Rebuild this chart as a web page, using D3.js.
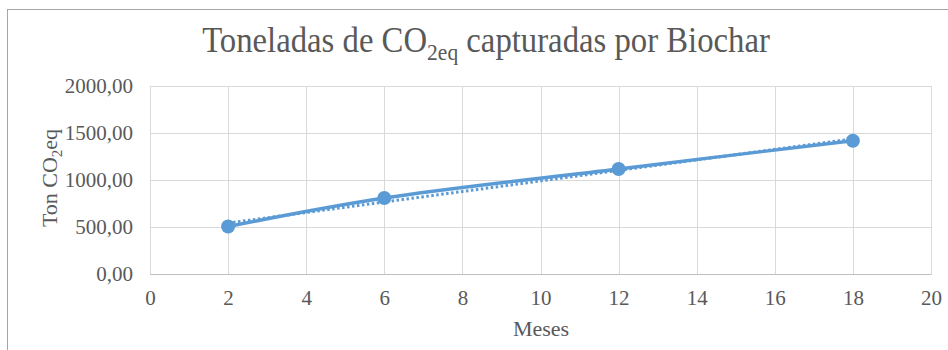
<!DOCTYPE html>
<html>
  <head>
    <meta charset="UTF-8" />
    <script src="https://cdnjs.cloudflare.com/ajax/libs/d3/7.8.5/d3.min.js"></script>
    <style>
      body { margin: 0; background: #fff; }
      text { font-family: "Liberation Serif", "Times New Roman", serif; }
      .grid line { stroke: #d9d9d9; stroke-width: 1; }
      .tick text { fill: #595959; font-size: 21px; font-family: "Liberation Serif", serif; }
      .title { fill: #595959; font-size: 35px; font-family: "Liberation Serif", serif; }
      .axis-title { fill: #595959; font-size: 22px; font-family: "Liberation Serif", serif; }
    </style>
  </head>
  <body>
    <svg id="chart" width="948" height="350"></svg>
    <script>
      // data
      var months = [2, 6, 12, 18];
      var tonCO2 = [505, 808, 1117, 1418];
      var xTicks = [0, 2, 4, 6, 8, 10, 12, 14, 16, 18, 20];
      var yTicks = [0, 500, 1000, 1500, 2000];

      var svg = d3.select("#chart");
      var blue = "#5b9bd5";

      // outer chart border
      svg.append("rect")
        .attr("x", 7.5).attr("y", 9.5)
        .attr("width", 960).attr("height", 360)
        .attr("fill", "none")
        .attr("stroke", "#a6a6a6");

      var x = d3.scaleLinear().domain([0, 20]).range([150, 931]);
      var y = d3.scaleLinear().domain([0, 2000]).range([274, 86]);

      var fmt = d => d3.format(".2f")(d).replace(".", ",");

      // horizontal grid
      svg.append("g").attr("class", "grid")
        .selectAll("line").data(yTicks).enter().append("line")
        .attr("x1", x(0)).attr("x2", x(20))
        .attr("y1", d => Math.round(y(d)) + 0.5)
        .attr("y2", d => Math.round(y(d)) + 0.5);

      // vertical grid
      svg.append("g").attr("class", "grid")
        .selectAll("line").data(xTicks).enter().append("line")
        .attr("y1", y(0)).attr("y2", y(2000))
        .attr("x1", d => Math.round(x(d)) + 0.5)
        .attr("x2", d => Math.round(x(d)) + 0.5);

      var xAxis = svg.append("g")
        .attr("transform", "translate(0," + y(0) + ")")
        .call(d3.axisBottom(x).tickValues(xTicks).tickSize(0).tickPadding(16));
      xAxis.select(".domain").attr("stroke", "#bfbfbf");

      var yAxis = svg.append("g")
        .attr("transform", "translate(" + x(0) + ",0)")
        .call(d3.axisLeft(y).tickValues(yTicks).tickFormat(fmt).tickSize(0).tickPadding(17));
      yAxis.select(".domain").remove();

      // linear trendline (least squares over the data)
      var mx = d3.mean(months), my = d3.mean(tonCO2);
      var sxy = d3.sum(months, (m, i) => (m - mx) * (tonCO2[i] - my));
      var sxx = d3.sum(months, m => (m - mx) * (m - mx));
      var slope = sxy / sxx, icpt = my - slope * mx;
      var trendX = [months[0], months[months.length - 1]];

      svg.append("path")
        .datum(trendX)
        .attr("fill", "none")
        .attr("stroke", blue)
        .attr("stroke-width", 3)
        .attr("stroke-dasharray", "2.5 2.5")
        .attr("d", d3.line().x(d => x(d)).y(d => y(slope * d + icpt)));

      var pts = months.map((m, i) => [m, tonCO2[i]]);

      svg.append("path")
        .datum(pts)
        .attr("fill", "none")
        .attr("stroke", blue)
        .attr("stroke-width", 3.4)
        .attr("stroke-linecap", "round")
        .attr("d", d3.line().x(d => x(d[0])).y(d => y(d[1])).curve(d3.curveCatmullRom.alpha(0.5)));

      svg.append("g").selectAll("circle").data(pts).enter().append("circle")
        .attr("cx", d => x(d[0]))
        .attr("cy", d => y(d[1]))
        .attr("r", 7)
        .attr("fill", blue);

      // title with subscript, squeezed to the reference width
      var titleG = svg.append("g");
      var title = titleG.append("text").attr("class", "title")
        .attr("x", 0).attr("y", 0).attr("text-anchor", "middle");
      title.append("tspan").text("Toneladas de CO");
      title.append("tspan").attr("font-size", "23px").attr("dy", 8).text("2eq");
      title.append("tspan").attr("dy", -8).text(" capturadas por Biochar");
      var tw = title.node().getComputedTextLength();
      titleG.attr("transform", "translate(486,52) scale(" + (568 / tw) + ",1)");

      svg.append("text").attr("class", "axis-title")
        .attr("x", 541).attr("y", 336).attr("text-anchor", "middle")
        .text("Meses");

      var yt = svg.append("text").attr("class", "axis-title")
        .attr("text-anchor", "middle")
        .attr("transform", "translate(57,178) rotate(-90)");
      yt.append("tspan").text("Ton CO");
      yt.append("tspan").attr("font-size", "15px").attr("dy", 5).text("2");
      yt.append("tspan").attr("dy", -5).text("eq");
    </script>
  </body>
</html>
